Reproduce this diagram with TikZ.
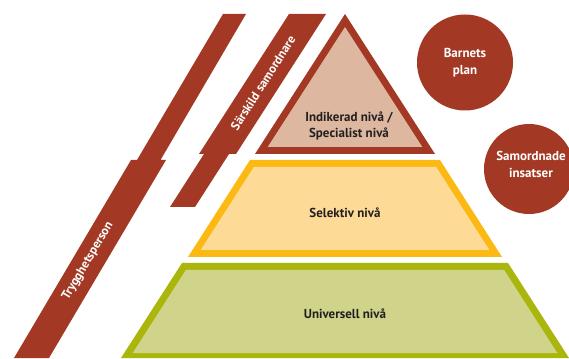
\documentclass[tikz,border=0pt]{standalone}
\usepackage{fontspec}
\setmainfont{PT Sans}
\definecolor{brick}{RGB}{163,57,36}
\definecolor{tan}{RGB}{221,183,160}
\definecolor{ylwline}{RGB}{252,185,19}
\definecolor{ylwfill}{RGB}{253,219,150}
\definecolor{grnline}{RGB}{170,182,11}
\definecolor{grnfill}{RGB}{208,212,138}
\definecolor{ink}{RGB}{35,31,32}
\tikzset{
  lvllabel/.style={font=\bfseries\fontsize{13}{15.5}\selectfont, text=ink, align=center, inner sep=0pt},
  whitelabel/.style={font=\bfseries\fontsize{13}{17}\selectfont, text=white, align=center, inner sep=0pt},
  bandlabel/.style={font=\bfseries\fontsize{12.5}{14}\selectfont, text=white, inner sep=0pt},
}
\begin{document}
\begin{tikzpicture}[x=1pt,y=1pt]
\useasboundingbox (0,0) rectangle (569,358);
\fill[white] (0,0) rectangle (569,358);
\clip (0,0) rectangle (569,358);
% bands
\fill[brick] (223,344) -- (246,344) -- (160.5,198) -- (166,198) -- (49,0) -- (14,0) -- (131,198) -- (137,198) -- cycle;
\fill[brick] (289,344) -- (326,344) -- (236,204) -- (229,204) -- (195,151) -- (170,151) -- (204,204) -- (199,204) -- cycle;
% triangle
\fill[brick] (345,344) -- (435,204) -- (255,204) -- cycle;
\fill[tan] (345,331) -- (422.3,211) -- (267.7,211) -- cycle;
% selective
\fill[ylwline] (250,198) -- (440,198) -- (502,101) -- (188,101) -- cycle;
\fill[ylwfill] (253.8,191) -- (436.2,191) -- (489.3,108) -- (200.7,108) -- cycle;
% universal
\fill[grnline] (182,95) -- (508,95) -- (569,0) -- (121,0) -- cycle;
\fill[grnfill] (185.8,88) -- (504.2,88) -- (557.3,5) -- (132.7,5) -- cycle;
% circles
\fill[brick] (465,295.5) circle (48);
\fill[brick] (529,189) circle (45);
% labels
\node[lvllabel] (ind) at (349,232) {Indikerad nivå /\\Specialist nivå};
\node[lvllabel] (sel) at (345,145) {Selektiv nivå};
\node[lvllabel] (uni) at (345,44) {Universell nivå};
\node[whitelabel] (bp) at (465,295) {Barnets\\plan};
\node[whitelabel] (si) at (531,194) {Samordnade\\insatser};
\node[bandlabel, rotate=59.5] (tp) at (88,97) {Trygghetsperson};
\node[bandlabel, rotate=57.4] (ss) at (263,275) {Särskild samordnare};
\end{tikzpicture}
\end{document}
